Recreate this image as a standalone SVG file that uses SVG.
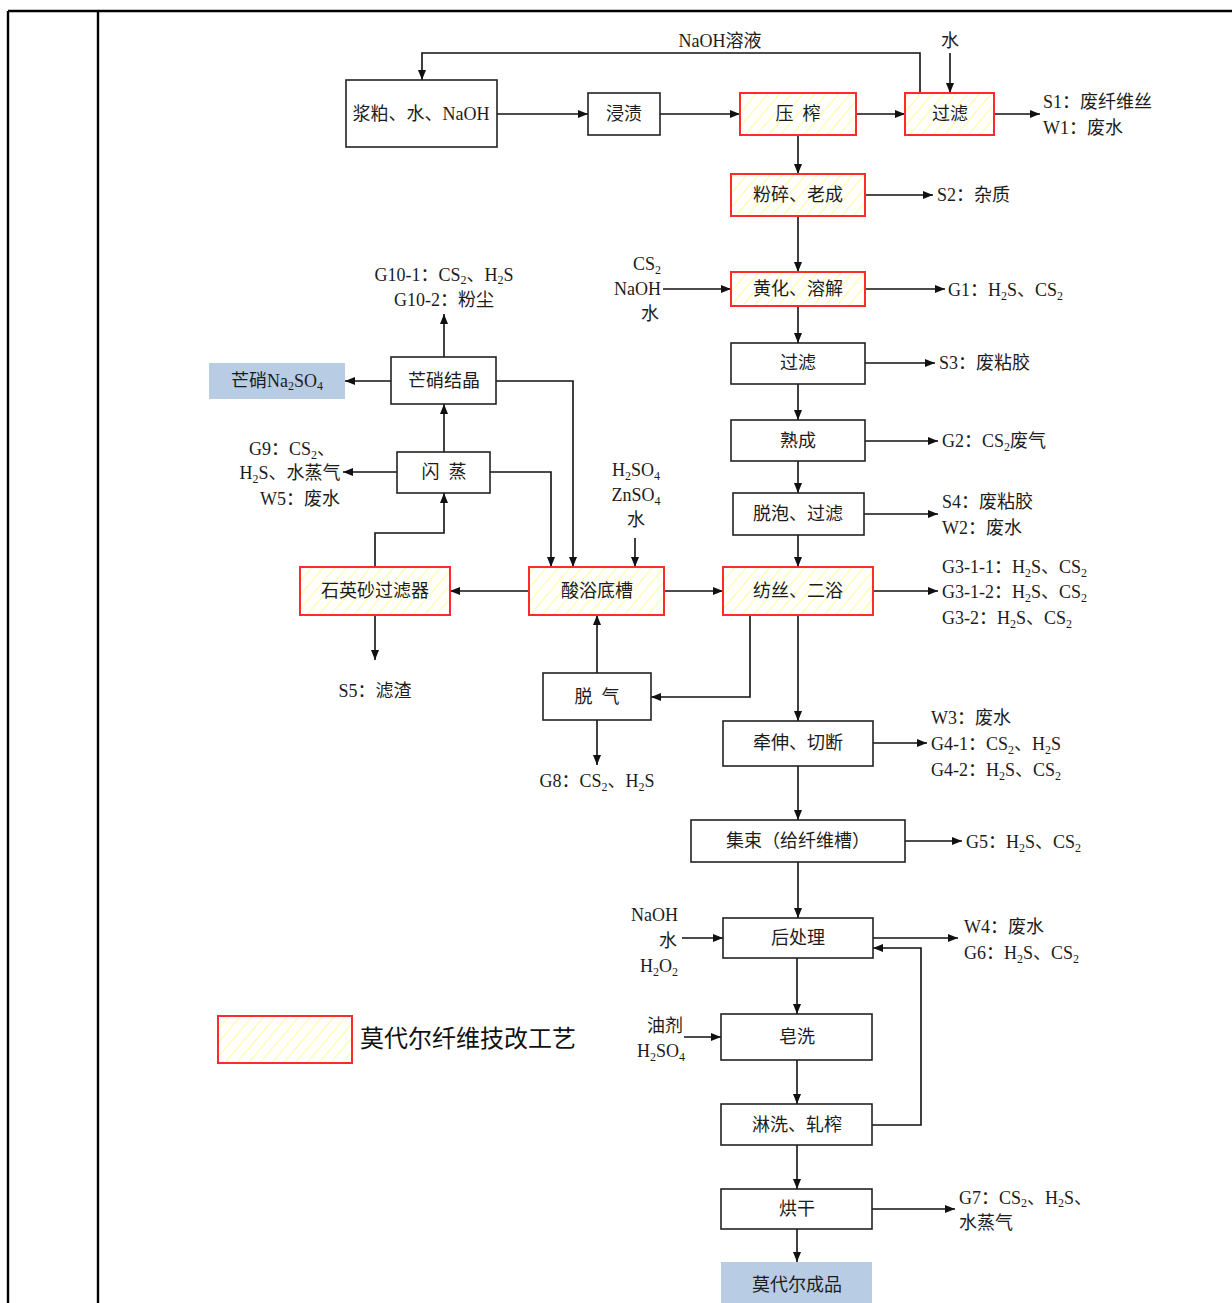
<svg xmlns="http://www.w3.org/2000/svg" width="1232" height="1303" viewBox="0 0 1232 1303">
<style>
text{font-family:"Liberation Serif","Noto Sans CJK SC",serif;font-size:18px;fill:#1c1c1c}
.m{text-anchor:middle}
.e{text-anchor:end}
.b{fill:#fff;stroke:#222;stroke-width:1.6}
.h{fill:url(#hatch);stroke:#ff2a2a;stroke-width:2}
.p{fill:#b8cce4;stroke:none}
.c path,.c line{fill:none;stroke:#111;stroke-width:1.6}
.frame{stroke:#000;stroke-width:2.4;fill:none}
.lg{font-family:"Noto Sans CJK SC","Liberation Sans",sans-serif;font-size:24px;fill:#111}
</style>
<defs>
<pattern id="hatch" patternUnits="userSpaceOnUse" width="9" height="9" patternTransform="rotate(40)">
<rect width="9" height="9" fill="#fff"/>
<line x1="0" y1="0" x2="0" y2="9" stroke="#ffff99" stroke-width="2"/>
</pattern>
<marker id="a" markerWidth="10" markerHeight="8" refX="10" refY="4" orient="auto" markerUnits="userSpaceOnUse">
<path d="M0,0 L10,4 L0,8 z" fill="#111"/>
</marker>
</defs>
<rect width="1232" height="1303" fill="#fff"/>
<g id="frame" class="frame">
<line x1="8" y1="11" x2="1232" y2="11"/>
<line x1="8" y1="11" x2="8" y2="1303"/>
<line x1="98" y1="11" x2="98" y2="1303"/>
</g>

<g id="connectors" class="c">
<path d="M920,93 V53 H422 V80" marker-end="url(#a)"/>
<path d="M950,53 V93" marker-end="url(#a)"/>
<path d="M497,114 H588" marker-end="url(#a)"/>
<path d="M660,114 H740" marker-end="url(#a)"/>
<path d="M856,114 H905" marker-end="url(#a)"/>
<path d="M994,114 H1040" marker-end="url(#a)"/>
<path d="M798,135 V174" marker-end="url(#a)"/>
<path d="M865,195 H933" marker-end="url(#a)"/>
<path d="M798,216 V272" marker-end="url(#a)"/>
<path d="M663,289 H731" marker-end="url(#a)"/>
<path d="M865,289 H945" marker-end="url(#a)"/>
<path d="M798,306 V343" marker-end="url(#a)"/>
<path d="M865,363 H935" marker-end="url(#a)"/>
<path d="M798,384 V420" marker-end="url(#a)"/>
<path d="M865,441 H938" marker-end="url(#a)"/>
<path d="M798,461 V493" marker-end="url(#a)"/>
<path d="M864,514 H938" marker-end="url(#a)"/>
<path d="M798,535 V567" marker-end="url(#a)"/>
<path d="M873,591 H938" marker-end="url(#a)"/>
<path d="M750,615 V697 H651" marker-end="url(#a)"/>
<path d="M798,615 V721" marker-end="url(#a)"/>
<path d="M664,591 H723" marker-end="url(#a)"/>
<path d="M529,591 H450" marker-end="url(#a)"/>
<path d="M597,673 V615" marker-end="url(#a)"/>
<path d="M597,720 V765" marker-end="url(#a)"/>
<path d="M635,538 V567" marker-end="url(#a)"/>
<path d="M375,615 V660" marker-end="url(#a)"/>
<path d="M375,567 V533 H444 V493" marker-end="url(#a)"/>
<path d="M444,452 V404" marker-end="url(#a)"/>
<path d="M444,357 V314" marker-end="url(#a)"/>
<path d="M391,381 H345" marker-end="url(#a)"/>
<path d="M397,472 H343" marker-end="url(#a)"/>
<path d="M490,472 H551 V567" marker-end="url(#a)"/>
<path d="M496,381 H573 V567" marker-end="url(#a)"/>
<path d="M873,743 H927" marker-end="url(#a)"/>
<path d="M798,766 V820" marker-end="url(#a)"/>
<path d="M905,841 H962" marker-end="url(#a)"/>
<path d="M798,862 V918" marker-end="url(#a)"/>
<path d="M682,938 H723" marker-end="url(#a)"/>
<path d="M873,938 H958" marker-end="url(#a)"/>
<path d="M872,1125 H921 V948 H873" marker-end="url(#a)"/>
<path d="M797,958 V1014" marker-end="url(#a)"/>
<path d="M684,1037 H721" marker-end="url(#a)"/>
<path d="M797,1060 V1104" marker-end="url(#a)"/>
<path d="M797,1145 V1189" marker-end="url(#a)"/>
<path d="M872,1209 H955" marker-end="url(#a)"/>
<path d="M797,1229 V1262" marker-end="url(#a)"/>
</g>

<g id="n-pulp"><rect class="b" x="346" y="80" width="151" height="67"/><text class="m" x="421" y="120">浆粕、水、NaOH</text></g>
<g id="n-steep"><rect class="b" x="588" y="93" width="72" height="42"/><text class="m" x="624" y="120">浸渍</text></g>
<g id="n-press"><rect class="h" x="740" y="93" width="116" height="42"/><text class="m" x="798" y="120">压&#160;&#160;榨</text></g>
<g id="n-filter1"><rect class="h" x="905" y="93" width="89" height="42"/><text class="m" x="950" y="120">过滤</text></g>
<g id="n-crush"><rect class="h" x="731" y="174" width="134" height="42"/><text class="m" x="798" y="201">粉碎、老成</text></g>
<g id="n-xanth"><rect class="h" x="731" y="272" width="134" height="34"/><text class="m" x="798" y="295">黄化、溶解</text></g>
<g id="n-filter2"><rect class="b" x="731" y="343" width="134" height="41"/><text class="m" x="798" y="369">过滤</text></g>
<g id="n-ripen"><rect class="b" x="731" y="420" width="134" height="41"/><text class="m" x="798" y="447">熟成</text></g>
<g id="n-deaer"><rect class="b" x="733" y="493" width="131" height="42"/><text class="m" x="798" y="520">脱泡、过滤</text></g>
<g id="n-spin"><rect class="h" x="723" y="567" width="150" height="48"/><text class="m" x="798" y="597">纺丝、二浴</text></g>
<g id="n-acid"><rect class="h" x="529" y="567" width="135" height="48"/><text class="m" x="597" y="597">酸浴底槽</text></g>
<g id="n-sand"><rect class="h" x="300" y="567" width="150" height="48"/><text class="m" x="375" y="597">石英砂过滤器</text></g>
<g id="n-degas"><rect class="b" x="543" y="673" width="108" height="47"/><text class="m" x="597" y="703">脱&#160;&#160;气</text></g>
<g id="n-stretch"><rect class="b" x="723" y="721" width="150" height="45"/><text class="m" x="798" y="749">牵伸、切断</text></g>
<g id="n-bundle"><rect class="b" x="691" y="820" width="214" height="42"/><text class="m" x="798" y="847">集束（给纤维槽）</text></g>
<g id="n-post"><rect class="b" x="723" y="918" width="150" height="40"/><text class="m" x="798" y="944">后处理</text></g>
<g id="n-soap"><rect class="b" x="721" y="1014" width="151" height="46"/><text class="m" x="797" y="1043">皂洗</text></g>
<g id="n-rinse"><rect class="b" x="721" y="1104" width="151" height="41"/><text class="m" x="797" y="1131">淋洗、轧榨</text></g>
<g id="n-dry"><rect class="b" x="721" y="1189" width="151" height="40"/><text class="m" x="797" y="1215">烘干</text></g>
<g id="n-product"><rect class="p" x="721" y="1262" width="151" height="41"/><text class="m" x="797" y="1291">莫代尔成品</text></g>
<g id="n-cryst"><rect class="b" x="391" y="357" width="105" height="47"/><text class="m" x="444" y="387">芒硝结晶</text></g>
<g id="n-flash"><rect class="b" x="397" y="452" width="93" height="41"/><text class="m" x="444" y="478">闪&#160;&#160;蒸</text></g>
<g id="n-na2so4"><rect class="p" x="209" y="363" width="136" height="36"/><text class="m" x="277" y="387">芒硝Na<tspan font-size="12" dy="3">2</tspan><tspan dy="-3">SO</tspan><tspan font-size="12" dy="3">4</tspan></text></g>

<g id="labels">
<text class="m" x="720" y="47">NaOH溶液</text>
<text class="m" x="950" y="47">水</text>
<text x="1043" y="108">S1：废纤维丝</text>
<text x="1043" y="134">W1：废水</text>
<text x="937" y="201">S2：杂质</text>
<text class="e" x="661" y="270">CS<tspan font-size="12" dy="4">2</tspan></text>
<text class="e" x="661" y="295">NaOH</text>
<text class="e" x="659" y="320">水</text>
<text x="948" y="296">G1：H<tspan font-size="12" dy="4">2</tspan><tspan dy="-4">S、CS</tspan><tspan font-size="12" dy="4">2</tspan></text>
<text x="939" y="369">S3：废粘胶</text>
<text x="942" y="447">G2：CS<tspan font-size="12" dy="4">2</tspan><tspan dy="-4">废气</tspan></text>
<text x="942" y="508">S4：废粘胶</text>
<text x="942" y="534">W2：废水</text>
<text x="942" y="573">G3-1-1：H<tspan font-size="12" dy="4">2</tspan><tspan dy="-4">S、CS</tspan><tspan font-size="12" dy="4">2</tspan></text>
<text x="942" y="598">G3-1-2：H<tspan font-size="12" dy="4">2</tspan><tspan dy="-4">S、CS</tspan><tspan font-size="12" dy="4">2</tspan></text>
<text x="942" y="624">G3-2：H<tspan font-size="12" dy="4">2</tspan><tspan dy="-4">S、CS</tspan><tspan font-size="12" dy="4">2</tspan></text>
<text class="m" x="636" y="476">H<tspan font-size="12" dy="4">2</tspan><tspan dy="-4">SO</tspan><tspan font-size="12" dy="4">4</tspan></text>
<text class="m" x="636" y="501">ZnSO<tspan font-size="12" dy="4">4</tspan></text>
<text class="m" x="636" y="526">水</text>
<text class="m" x="375" y="697">S5：滤渣</text>
<text class="m" x="597" y="787">G8：CS<tspan font-size="12" dy="4">2</tspan><tspan dy="-4">、H</tspan><tspan font-size="12" dy="4">2</tspan><tspan dy="-4">S</tspan></text>
<text class="m" x="444" y="281">G10-1：CS<tspan font-size="12" dy="3">2</tspan><tspan dy="-3">、H</tspan><tspan font-size="12" dy="3">2</tspan><tspan dy="-3">S</tspan></text>
<text class="m" x="444" y="306">G10-2：粉尘</text>
<text class="m" x="292" y="455">G9：CS<tspan font-size="12" dy="4">2</tspan><tspan dy="-4">、</tspan></text>
<text class="m" x="290" y="479">H<tspan font-size="12" dy="4">2</tspan><tspan dy="-4">S、水蒸气</tspan></text>
<text class="m" x="300" y="505">W5：废水</text>
<text x="931" y="724">W3：废水</text>
<text x="931" y="750">G4-1：CS<tspan font-size="12" dy="4">2</tspan><tspan dy="-4">、H</tspan><tspan font-size="12" dy="4">2</tspan><tspan dy="-4">S</tspan></text>
<text x="931" y="776">G4-2：H<tspan font-size="12" dy="4">2</tspan><tspan dy="-4">S、CS</tspan><tspan font-size="12" dy="4">2</tspan></text>
<text x="966" y="848">G5：H<tspan font-size="12" dy="4">2</tspan><tspan dy="-4">S、CS</tspan><tspan font-size="12" dy="4">2</tspan></text>
<text class="e" x="678" y="921">NaOH</text>
<text class="e" x="677" y="947">水</text>
<text class="e" x="678" y="972">H<tspan font-size="12" dy="4">2</tspan><tspan dy="-4">O</tspan><tspan font-size="12" dy="4">2</tspan></text>
<text x="964" y="933">W4：废水</text>
<text x="964" y="959">G6：H<tspan font-size="12" dy="4">2</tspan><tspan dy="-4">S、CS</tspan><tspan font-size="12" dy="4">2</tspan></text>
<text class="e" x="683" y="1032">油剂</text>
<text class="e" x="685" y="1057">H<tspan font-size="12" dy="4">2</tspan><tspan dy="-4">SO</tspan><tspan font-size="12" dy="4">4</tspan></text>
<text x="959" y="1204">G7：CS<tspan font-size="12" dy="3">2</tspan><tspan dy="-3">、H</tspan><tspan font-size="12" dy="3">2</tspan><tspan dy="-3">S、</tspan></text>
<text x="959" y="1229">水蒸气</text>
</g>

<g id="legend">
<rect class="h" x="218" y="1016" width="134" height="47"/>
<text class="lg" x="360" y="1047">莫代尔纤维技改工艺</text>
</g>
</svg>
